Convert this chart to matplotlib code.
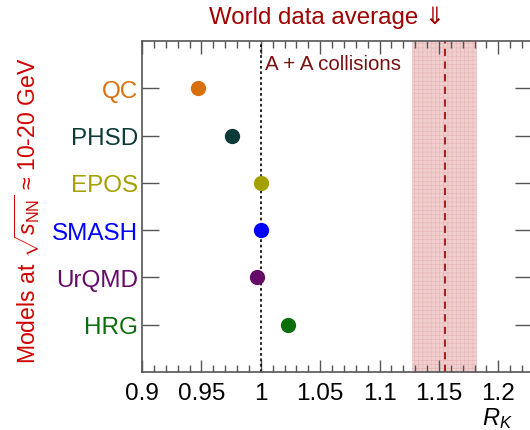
import matplotlib
matplotlib.use("Agg")
import matplotlib.pyplot as plt
from matplotlib.ticker import MultipleLocator, FixedLocator

plt.rcParams['font.family'] = ['Liberation Sans', 'DejaVu Sans']
plt.rcParams['mathtext.fontset'] = 'custom'
plt.rcParams['mathtext.rm'] = 'Liberation Sans'
plt.rcParams['mathtext.it'] = 'Liberation Sans:italic'
plt.rcParams['hatch.linewidth'] = 0.4

models = ['QC', 'PHSD', 'EPOS', 'SMASH', 'UrQMD', 'HRG']
rk_values = [0.947, 0.976, 1.000, 1.0005, 0.9965, 1.0227]
model_colors = ['#d8700f', '#0b3a38', '#a3a000', '#0000ff', '#660a6a', '#0a6e0a']
y_positions = [6, 5, 4, 3, 2, 1]

world_avg = 1.155
world_lo = 1.127
world_hi = 1.182
xticks = [0.9, 0.95, 1.0, 1.05, 1.1, 1.15, 1.2]
xticklabels = ['0.9', '0.95', '1', '1.05', '1.1', '1.15', '1.2']

fig = plt.figure(figsize=(5.30, 4.31), dpi=100)
ax = fig.add_axes([0.268, 0.1346, 1.003 - 0.268, 0.9026 - 0.1346])

ax.axvspan(world_lo, world_hi, facecolor='#f2cfcf', edgecolor='#e6b4b4',
           hatch='++++', linewidth=0, zorder=1)
ax.axvline(world_avg, color='#a01010', linestyle=(0, (4, 3)), linewidth=1.3, zorder=2)
ax.axvline(1.0, color='#111111', linestyle=(0, (1.5, 1.5)), linewidth=1.3, zorder=2)

for x, y, c in zip(rk_values, y_positions, model_colors):
    ax.plot(x, y, 'o', color=c, markersize=11, markeredgewidth=0, zorder=3)

ax.set_xlim(0.9, 1.228)
ax.set_ylim(0, 7)
ax.xaxis.set_major_locator(FixedLocator(xticks))
ax.set_xticklabels(xticklabels, fontsize=17.5)
ax.xaxis.set_minor_locator(MultipleLocator(0.01))
ax.set_yticks(y_positions)
ax.set_yticklabels(models, fontsize=17.5)
for lab, c in zip(ax.get_yticklabels(), model_colors):
    lab.set_color(c)

ax.tick_params(axis='x', which='major', direction='in', length=9, width=1,
               top=True, bottom=True, color='#555555', pad=7)
ax.tick_params(axis='x', which='minor', direction='in', length=5, width=1,
               top=True, bottom=True, color='#555555')
ax.tick_params(axis='y', which='major', direction='in', length=12, width=1,
               left=True, right=True, color='#555555', pad=3)
for s in ax.spines.values():
    s.set_color('#555555')
    s.set_linewidth(1.2)

ax.text(1.0035, 6.52, 'A + A collisions', color='#7a1010', fontsize=14.8,
        ha='left', va='center', zorder=4)

fig.text(0.617, 0.958, 'World data average ⇓', color='#a00000', fontsize=17.3,
         ha='center', va='center')
fig.text(0.052, 0.51, r'Models at $\sqrt{s_{\rm NN}}$ ≈ 10-20 GeV', color='#d00000',
         fontsize=16.6, rotation=90, ha='center', va='center')
fig.text(0.968, 0.0, r'$R_K$', fontsize=17, ha='right', va='bottom')

fig.savefig('out.png', dpi=100)
